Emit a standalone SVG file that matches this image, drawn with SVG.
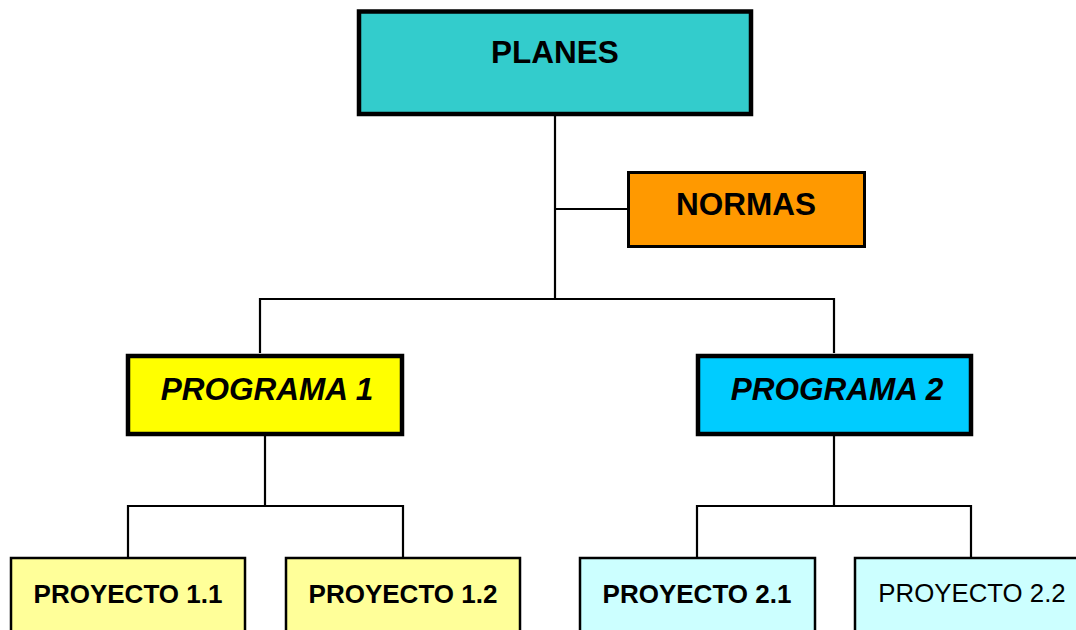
<svg xmlns="http://www.w3.org/2000/svg" width="1076" height="630" viewBox="0 0 1076 630">
<style>
text{font-family:"Liberation Sans",Arial,sans-serif;text-anchor:middle;fill:#000}
.t1{font-size:31.5px;font-weight:bold}
.ti{font-size:31.5px;font-weight:bold;font-style:italic}
.tp{font-size:26px;font-weight:bold}
.tr{font-size:25.8px}
.thick{stroke:#000;stroke-width:4.5}
.med{stroke:#000;stroke-width:3}
.thin{stroke:#000;stroke-width:2.5}
.conn{fill:none;stroke:#000;stroke-width:2.2}
</style>
<rect width="1076" height="630" fill="#fff"/>
<g id="connectors" class="conn">
<path d="M555 116V299"/>
<path d="M555 209H628"/>
<path d="M260 353V299H834V353"/>
<path d="M265 436V506"/>
<path d="M128 557V506H403V557"/>
<path d="M834 436V506"/>
<path d="M697 557V506H971V557"/>
</g>
<g id="planes"><rect x="359" y="11.5" width="392" height="102.5" fill="#33CCCC" class="thick"/><text x="555" y="63" class="t1">PLANES</text></g>
<g id="normas"><rect x="628.5" y="172.5" width="236" height="74" fill="#FF9900" class="med"/><text x="746" y="215" class="t1">NORMAS</text></g>
<g id="programa1"><rect x="128" y="356" width="274" height="78" fill="#FFFF00" class="thick"/><text x="267" y="400" class="ti">PROGRAMA 1</text></g>
<g id="programa2"><rect x="698" y="356" width="273" height="78" fill="#00CCFF" class="thick"/><text x="837" y="400" class="ti">PROGRAMA 2</text></g>
<g id="proyecto11"><rect x="11" y="558" width="234" height="90" fill="#FFFF99" class="thin"/><text x="128" y="603" class="tp">PROYECTO 1.1</text></g>
<g id="proyecto12"><rect x="286" y="558" width="234" height="90" fill="#FFFF99" class="thin"/><text x="403" y="603" class="tp">PROYECTO 1.2</text></g>
<g id="proyecto21"><rect x="580" y="558" width="235" height="90" fill="#CCFFFF" class="thin"/><text x="697" y="603" class="tp">PROYECTO 2.1</text></g>
<g id="proyecto22"><rect x="855" y="558" width="235" height="90" fill="#CCFFFF" class="thin"/><text x="972" y="602" class="tr">PROYECTO 2.2</text></g>
</svg>
